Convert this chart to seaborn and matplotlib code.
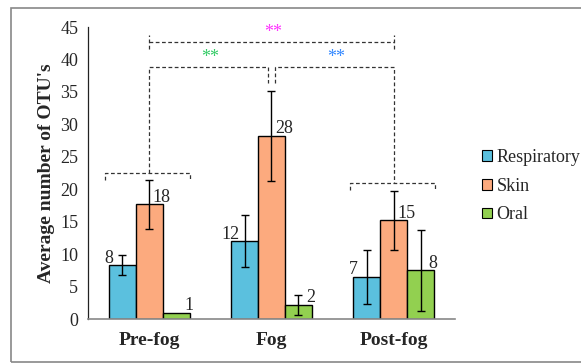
import pandas as pd
import matplotlib
matplotlib.use("Agg")
import matplotlib.pyplot as plt
from matplotlib.patches import Rectangle
import seaborn as sns

# ── Data ──────────────────────────────────────────────────────────────────────
periods = ["Pre-fog", "Fog", "Post-fog"]
series = ["Respiratory", "Skin", "Oral"]
respiratory = [8.3, 12.0, 6.5]
skin = [17.7, 28.2, 15.2]
oral = [1.0, 2.2, 7.5]
respiratory_err = [1.5, 4.05, 4.2]
skin_err = [3.8, 7.0, 4.5]
oral_err = [0.0, 1.5, 6.3]
labels = {"Respiratory": ["8", "12", "7"],
          "Skin": ["18", "28", "15"],
          "Oral": ["1", "2", "8"]}
colors = ["#5BC0DE", "#FCAA7E", "#92D050"]

df = pd.DataFrame({
    "period": periods * 3,
    "group": [s for s in series for _ in periods],
    "value": respiratory + skin + oral,
    "err": respiratory_err + skin_err + oral_err,
})

# ── Plot ──────────────────────────────────────────────────────────────────────
sns.set_style("white")
plt.rcParams["font.family"] = ["Liberation Serif", "DejaVu Serif"]

fig = plt.figure(figsize=(5.81, 3.63), dpi=100)
ax = fig.add_axes([0.1515, 0.121, 0.6315, 0.8046])

sns.barplot(data=df, x="period", y="value", hue="group", order=periods,
            hue_order=series, palette=colors, saturation=1, width=0.66, gap=0,
            edgecolor="black", linewidth=1, errorbar=None, ax=ax)

label_dx = {"Respiratory": -10, "Skin": 9, "Oral": 9}
for name, cont in zip(series, ax.containers):
    sub = df[df["group"] == name]
    for bar, val, err, lab in zip(cont, sub["value"], sub["err"], labels[name]):
        xc = bar.get_x() + bar.get_width() / 2
        if err > 0:
            ax.errorbar(xc, val, yerr=err, fmt="none", ecolor="black",
                        elinewidth=1, capsize=3, capthick=1)
        ax.annotate(lab, (xc, val), xytext=(label_dx[name], -1),
                    textcoords="offset points", ha="center", va="bottom",
                    fontsize=13)

# significance brackets (dashed)
dash = dict(color="#333333", lw=0.9, ls=(0, (3, 2)))
# pre-fog and post-fog group brackets
ax.plot([-0.365, -0.365, 0.33, 0.33], [21.4, 22.5, 22.5, 21.4], **dash)
ax.plot([1.64, 1.64, 2.34, 2.34], [19.9, 21.0, 21.0, 19.9], **dash)
# pre-fog vs fog
ax.plot([0, 0, 0.971, 0.971], [22.5, 38.9, 38.9, 36.4], **dash)
# fog vs post-fog
ax.plot([1.029, 1.029, 2.0, 2.0], [36.4, 38.9, 38.9, 21.0], **dash)
# pre-fog vs post-fog
ax.plot([0, 2.0], [42.7, 42.7], **dash)
ax.plot([0, 0], [41.6, 43.8], **dash)
ax.plot([2.0, 2.0], [41.6, 43.8], **dash)

ax.text(0.5, 39.0, "**", color="#33CC66", ha="center", va="bottom", fontsize=13)
ax.text(1.53, 39.0, "**", color="#3388FF", ha="center", va="bottom", fontsize=13)
ax.text(1.01, 42.9, "**", color="#FF33FF", ha="center", va="bottom", fontsize=13)

ax.set_xlim(-0.5, 2.5)
ax.set_ylim(0, 45)
ax.set_yticks(range(0, 46, 5))
ax.tick_params(axis="y", direction="in", length=4, width=0.8, labelsize=13, pad=7)
ax.tick_params(axis="x", length=0, labelsize=14, pad=9)
for t in ax.get_xticklabels():
    t.set_fontweight("bold")
ax.set_xlabel("")
ax.set_ylabel("Average number of OTU's", fontsize=14, fontweight="bold", labelpad=4)

sns.despine(ax=ax)
ax.spines["left"].set_color("#222222")
ax.spines["left"].set_linewidth(0.9)
ax.spines["bottom"].set_color("#888888")
ax.spines["bottom"].set_linewidth(1.2)

leg = ax.legend(loc="center left", bbox_to_anchor=(1.03, 0.455), frameon=False,
                fontsize=13, handlelength=0.55, handleheight=0.55,
                handletextpad=0.25, labelspacing=0.65)
for h in leg.legend_handles:
    h.set_edgecolor("black")
    h.set_linewidth(0.8)

# outer chart border
fig.patches.append(Rectangle((11 / 581, 1 / 363), 1.0, 354 / 363,
                             transform=fig.transFigure, fill=False,
                             edgecolor="#888888", lw=1.2))

fig.savefig("out.png", dpi=100)
